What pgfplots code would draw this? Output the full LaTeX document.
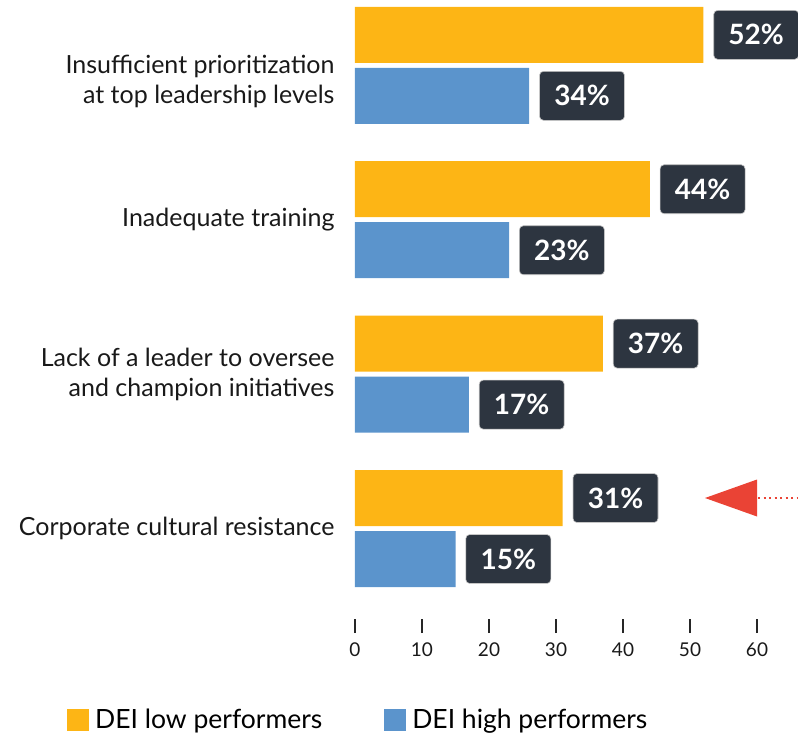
\documentclass[border=0pt]{standalone}
\usepackage{pgfplots}
\pgfplotsset{compat=1.18}
\usepackage{fontspec}
\setmainfont{Lato}
\definecolor{orng}{HTML}{FDB515}
\definecolor{blu}{HTML}{5B94CC}
\definecolor{dbox}{HTML}{2D3540}
\definecolor{arrowred}{HTML}{EA4335}
\begin{document}
\begin{tikzpicture}[x=1pt,y=1pt]
\useasboundingbox (0,0) rectangle (798,-736);
\begin{axis}[
  at={(355pt,-619pt)}, anchor=south west, scale only axis,
  width=402pt, height=619pt,
  xmin=0, xmax=60, ymin=-0.586, ymax=3.423,
  clip=false,
  xbar, bar width=56pt,
  axis line style={draw=none},
  /pgf/number format/assume math mode=true,
  xtick={0,10,20,30,40,50,60}, xtick pos=bottom, ytick pos=left,
  tick align=outside, major tick length=14pt,
  x tick style={color=black!85, line width=1.4pt},
  y tick style={draw=none},
  xticklabel style={font=\fontsize{19}{22}\selectfont, text=black!90, yshift=-6pt},
  ytick={0,1,2},
  yticklabels={Corporate cultural resistance, {Lack of a leader to oversee\\and champion initiatives}, Inadequate training},
  extra y ticks={3},
  extra y tick labels={{Insufficient prioritization\\at top leadership levels}},
  extra y tick style={yticklabel style={yshift=-16pt}},
  yticklabel style={align=right, font=\fontsize{25}{30}\selectfont, text=black!90, xshift=-3pt},
  point meta=explicit,
  nodes near coords={\pgfmathprintnumber{\pgfplotspointmeta}\%},
  nodes near coords style={anchor=west, xshift=10pt, fill=dbox, draw=gray!45, line width=0.6pt, rounded corners=4pt, text=white, font=\bfseries\fontsize{28}{28}\selectfont, minimum width=85pt, minimum height=49pt, inner sep=0pt},
  legend style={draw=none, fill=none, at={(-0.724,-0.163)}, anchor=west, legend columns=2, font=\fontsize{26.5}{30}\selectfont,
    /tikz/every even column/.append style={column sep=60pt},
    /tikz/every odd column/.append style={column sep=4pt}},
  legend image code/.code={\fill[#1] (0pt,-11pt) rectangle (22pt,11pt);},
]
\addplot[fill=orng, draw=none, bar shift=30.5pt] coordinates {(52,3) [52] (44,2) [44] (37,1) [37] (31,0) [31]};
\addplot[fill=blu, draw=none, bar shift=-30.5pt] coordinates {(26,3) [34] (23,2) [23] (17,1) [17] (15,0) [15]};
\legend{DEI low performers, DEI high performers}
\end{axis}
\fill[arrowred] (705,-498) -- (757,-479.5) -- (757,-516.5) -- cycle;
\draw[arrowred, line width=2pt, dash pattern=on 2pt off 3.5pt] (758,-498) -- (800,-498);
\end{tikzpicture}
\end{document}
